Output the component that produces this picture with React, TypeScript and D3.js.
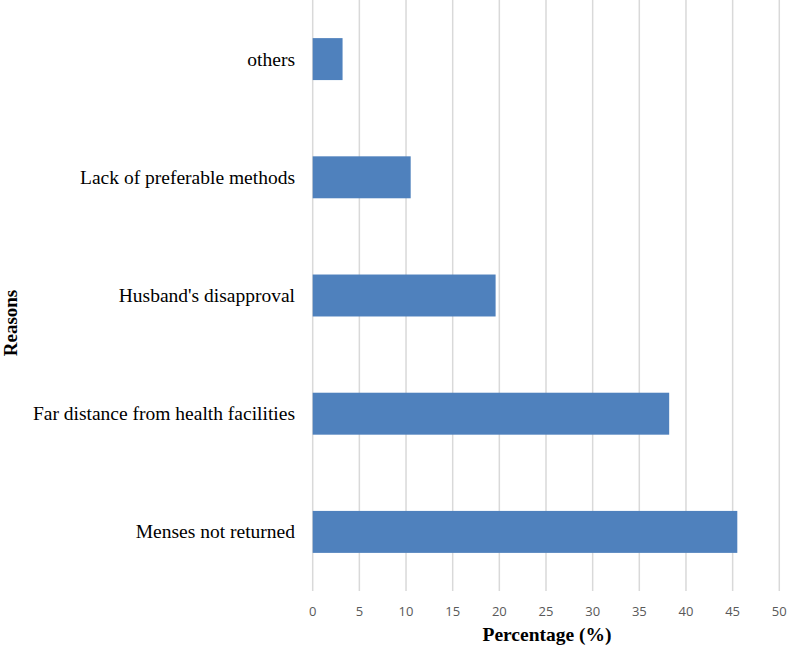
import React from "react";
import * as d3 from "d3";

const categories = ["others", "Lack of preferable methods", "Husband's disapproval", "Far distance from health facilities", "Menses not returned"];
const values = [3.2, 10.5, 19.6, 38.2, 45.5];
const xTicks = [0, 5, 10, 15, 20, 25, 30, 35, 40, 45, 50];
const xTitle = "Percentage (%)";
const yTitle = "Reasons";

export default function App() {
  const W = 787, H = 646;
  const left = 312.7, right = 779.3, top = 0, bottom = 591;
  const x = d3.scaleLinear().domain([0, 50]).range([left, right]);
  const y = d3.scaleBand<string>().domain(categories).range([top, bottom]).paddingInner(0.645).paddingOuter(0.3225);
  const serif = "'Liberation Serif', 'Times New Roman', serif";
  const sans = "'Open Sans', 'Liberation Sans', sans-serif";
  return (
    <svg width={W} height={H} style={{ position: "absolute", left: 0, top: 0, background: "#fff" }}>
      {xTicks.map((t) => (
        <line key={"g" + t} x1={x(t)} x2={x(t)} y1={top} y2={bottom} stroke="#d9d9d9" strokeWidth={1.5} />
      ))}
      {categories.map((c, i) => (
        <rect key={c} x={x(0)} y={y(c)!} width={x(values[i]) - x(0)} height={y.bandwidth()} fill="#4f81bd" />
      ))}
      {categories.map((c) => (
        <text key={"l" + c} x={295} y={y(c)! + y.bandwidth() / 2} dy="0.33em" textAnchor="end" fontFamily={serif} fontSize={19.5} fill="#000">
          {c}
        </text>
      ))}
      {xTicks.map((t) => (
        <text key={"t" + t} x={x(t)} y={616} textAnchor="middle" fontFamily={sans} fontSize={13} fill="#595959">
          {t}
        </text>
      ))}
      <text x={547} y={641} textAnchor="middle" fontFamily={serif} fontSize={19.5} fontWeight="bold" fill="#000">
        {xTitle}
      </text>
      <text transform={`translate(17,${323}) rotate(-90)`} textAnchor="middle" fontFamily={serif} fontSize={19} fontWeight="bold" fill="#000">
        {yTitle}
      </text>
    </svg>
  );
}
